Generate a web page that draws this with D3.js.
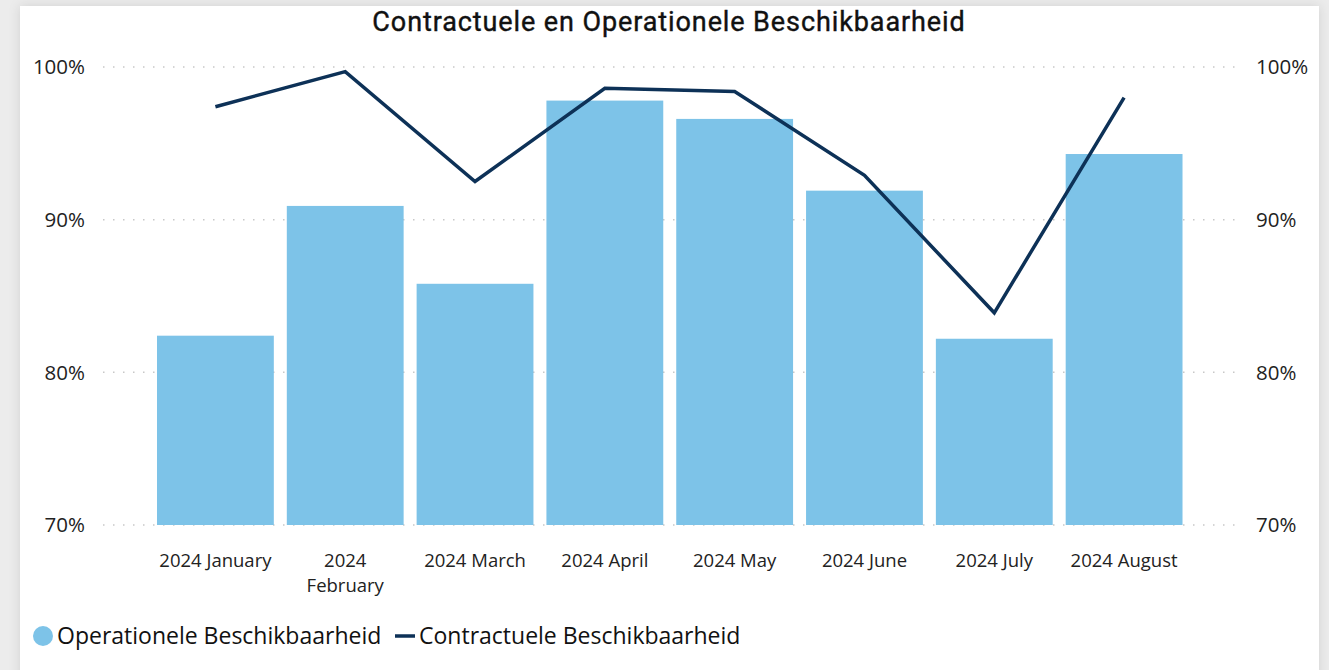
<!DOCTYPE html>
<html>
<head>
<meta charset="utf-8">
<script src="https://cdn.jsdelivr.net/npm/d3@7"></script>
<style>
  body { margin: 0; background: #ececec; font-family: "Open Sans", "Noto Sans", sans-serif; }
  svg { display: block; }
</style>
</head>
<body>
<script>
// data
const months = ["2024 January", "2024 February", "2024 March", "2024 April", "2024 May", "2024 June", "2024 July", "2024 August"];
const operationeel = [82.4, 90.9, 85.8, 97.8, 96.6, 91.9, 82.2, 94.3];
const contractueel = [97.4, 99.7, 92.5, 98.6, 98.4, 92.9, 83.9, 98.0];
const yTicks = [70, 80, 90, 100];

const width = 1329, height = 670;
const svg = d3.select("body").append("svg")
    .attr("width", width)
    .attr("height", height);

// witte kaart met schaduw
const defs = svg.append("defs");
const f = defs.append("filter").attr("id", "shadow").attr("x", "-5%").attr("y", "-5%").attr("width", "110%").attr("height", "110%");
f.append("feDropShadow").attr("dx", 0).attr("dy", 0).attr("stdDeviation", 6).attr("flood-color", "#000").attr("flood-opacity", 0.12);
svg.append("rect")
    .attr("x", 20).attr("y", 6).attr("width", 1299).attr("height", 680)
    .attr("fill", "#fff")
    .attr("filter", "url(#shadow)");

// schalen
const x = d3.scaleBand()
    .domain(months)
    .range([150.5, 1189])
    .paddingInner(0.1)
    .paddingOuter(0.05);

const y = d3.scaleLinear()
    .domain([70, 100])
    .range([525, 67]);

// rasterlijnen
svg.append("g").selectAll("line")
    .data(yTicks)
    .enter().append("line")
    .attr("x1", 103).attr("x2", 1240)
    .attr("y1", d => y(d)).attr("y2", d => y(d))
    .attr("stroke", "#c8c8c8")
    .attr("stroke-width", 1.5)
    .attr("stroke-dasharray", "1.5 8.5");

// linker en rechter as labels
svg.append("g").selectAll("text")
    .data(yTicks)
    .enter().append("text")
    .attr("x", 85).attr("y", d => y(d))
    .attr("dy", "0.35em")
    .attr("text-anchor", "end")
    .style("font-size", "20.5px")
    .attr("fill", "#222")
    .text(d => d + "%");

svg.append("g").selectAll("text")
    .data(yTicks)
    .enter().append("text")
    .attr("x", 1256).attr("y", d => y(d))
    .attr("dy", "0.35em")
    .attr("text-anchor", "start")
    .style("font-size", "20.5px")
    .attr("fill", "#222")
    .text(d => d + "%");

// staven
svg.append("g").selectAll("rect")
    .data(months)
    .enter().append("rect")
    .attr("x", d => x(d))
    .attr("width", x.bandwidth())
    .attr("y", (d, i) => y(operationeel[i]))
    .attr("height", (d, i) => y(70) - y(operationeel[i]))
    .attr("fill", "#7dc3e8");

// lijn
const line = d3.line()
    .x((d, i) => x(months[i]) + x.bandwidth() / 2)
    .y(d => y(d));

svg.append("path")
    .datum(contractueel)
    .attr("fill", "none")
    .attr("stroke", "#0d3157")
    .attr("stroke-width", 3.5)
    .attr("d", line);

// x-as labels
const xLabels = svg.append("g").selectAll("text")
    .data(months)
    .enter().append("text")
    .attr("x", d => x(d) + x.bandwidth() / 2)
    .attr("y", 567)
    .attr("text-anchor", "middle")
    .style("font-size", "18.5px")
    .attr("fill", "#222");

xLabels.each(function(d) {
    const t = d3.select(this);
    if (d === "2024 February") {
        t.append("tspan").attr("x", x(d) + x.bandwidth() / 2).text("2024");
        t.append("tspan").attr("x", x(d) + x.bandwidth() / 2).attr("dy", 25).text("February");
    } else {
        t.text(d);
    }
});

// titel
svg.append("text")
    .attr("x", 669).attr("y", 31)
    .attr("text-anchor", "middle")
    .style("font-family", "Roboto, sans-serif")
    .style("font-size", "27px")
    .style("font-weight", "400")
    .style("letter-spacing", "0.9px")
    .attr("fill", "#111")
    .attr("stroke", "#111")
    .attr("stroke-width", 0.4)
    .text("Contractuele en Operationele Beschikbaarheid");

// legenda
const legend = svg.append("g");
legend.append("circle")
    .attr("cx", 43).attr("cy", 636).attr("r", 10)
    .attr("fill", "#7dc3e8");
legend.append("text")
    .attr("x", 57).attr("y", 636).attr("dy", "0.35em")
    .style("font-size", "23px")
    .attr("fill", "#111")
    .text("Operationele Beschikbaarheid");
legend.append("line")
    .attr("x1", 395).attr("x2", 415)
    .attr("y1", 636).attr("y2", 636)
    .attr("stroke", "#0d3157")
    .attr("stroke-width", 3.5);
legend.append("text")
    .attr("x", 419).attr("y", 636).attr("dy", "0.35em")
    .style("font-size", "23px")
    .attr("fill", "#111")
    .text("Contractuele Beschikbaarheid");
</script>
</body>
</html>
